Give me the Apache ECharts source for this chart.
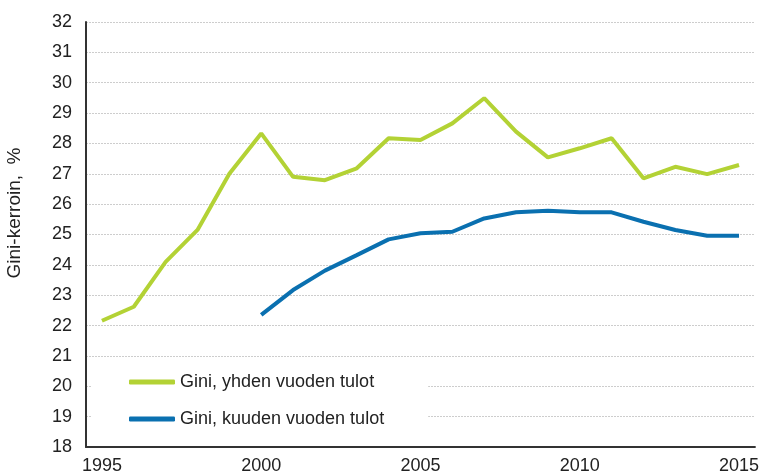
<!DOCTYPE html>
<html>
<head>
<meta charset="utf-8">
<script src="https://cdn.jsdelivr.net/npm/echarts@6/dist/echarts.min.js"></script>
<style>
  html, body { margin: 0; padding: 0; background: #fff; }
  #chart { width: 762px; height: 476px; }
</style>
</head>
<body>
<div id="chart"></div>
<script>
var years = ['1995', '1996', '1997', '1998', '1999', '2000', '2001', '2002', '2003', '2004', '2005',
    '2006', '2007', '2008', '2009', '2010', '2011', '2012', '2013', '2014', '2015'];
var giniOneYear = [22.16, 22.62, 24.1, 25.15, 27.0, 28.33, 26.9, 26.79, 27.18, 28.17, 28.11,
    28.66, 29.49, 28.39, 27.54, 27.84, 28.17, 26.85, 27.23, 26.99, 27.29];
var giniSixYear = [null, null, null, null, null, 22.35, 23.17, 23.81, 24.32, 24.84, 25.04,
    25.09, 25.53, 25.73, 25.78, 25.73, 25.73, 25.42, 25.15, 24.96, 24.96];
var seriesNames = ['Gini, yhden vuoden tulot', 'Gini, kuuden vuoden tulot'];
var yTitle = 'Gini-kerroin,  %';

var font = 'Liberation Sans, Arial, sans-serif';
var myChart = echarts.init(document.getElementById('chart'));
var option = {
    animation: false,
    grid: { left: 86, right: 5, top: 22, bottom: 29, containLabel: false },
    graphic: [{
        type: 'text',
        x: 15,
        y: 213,
        rotation: Math.PI / 2,
        style: {
            text: yTitle,
            fontFamily: font,
            fontSize: 19,
            fill: '#222',
            align: 'center',
            verticalAlign: 'middle'
        }
    }],
    legend: {
        orient: 'vertical',
        left: 92,
        top: 367,
        padding: [5, 44, 6, 37],
        backgroundColor: '#fff',
        icon: 'roundRect',
        itemWidth: 46,
        itemHeight: 5,
        itemGap: 17,
        textStyle: { fontFamily: font, fontSize: 18, color: '#222', lineHeight: 20 },
        data: seriesNames
    },
    xAxis: {
        type: 'category',
        data: years,
        boundaryGap: true,
        axisLine: { lineStyle: { color: '#333', width: 2 } },
        axisTick: { show: false },
        axisLabel: { interval: 4, fontFamily: font, fontSize: 18, color: '#222', margin: 10 },
        splitLine: { show: false }
    },
    yAxis: {
        type: 'value',
        min: 18,
        max: 32,
        interval: 1,
        axisLine: { show: true, lineStyle: { color: '#333', width: 2 } },
        axisTick: { show: false },
        axisLabel: { fontFamily: font, fontSize: 18, color: '#222', margin: 14 },
        splitLine: { lineStyle: { color: '#cdcdcd', width: 1, type: [2, 1] } }
    },
    series: [
        {
            name: seriesNames[0],
            type: 'line',
            data: giniOneYear,
            symbol: 'none',
            color: '#b3d235',
            lineStyle: { width: 4, color: '#b3d235' }
        },
        {
            name: seriesNames[1],
            type: 'line',
            data: giniSixYear,
            symbol: 'none',
            color: '#0a70b0',
            lineStyle: { width: 4, color: '#0a70b0' }
        }
    ]
};
myChart.setOption(option, true);
</script>
</body>
</html>
